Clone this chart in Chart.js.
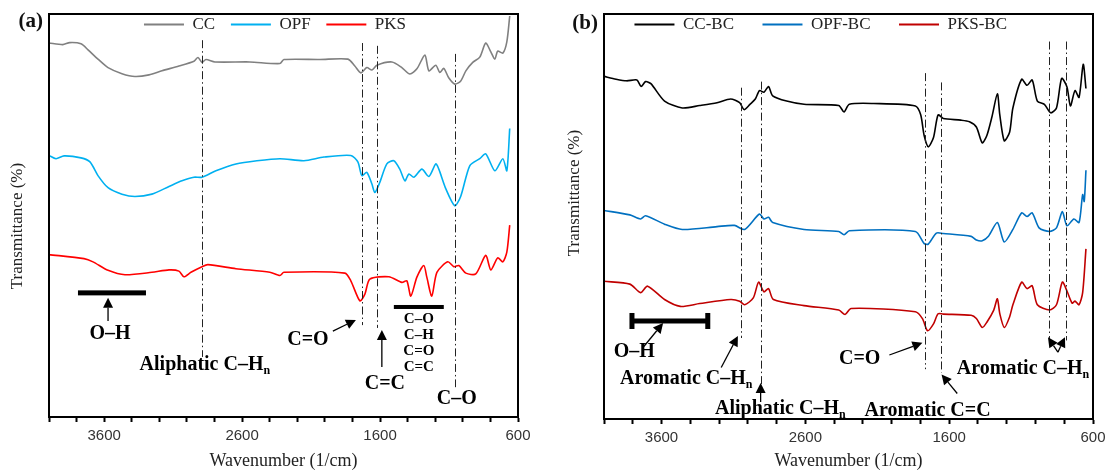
<!DOCTYPE html>
<html>
<head>
<meta charset="utf-8">
<script src="https://cdn.jsdelivr.net/npm/chart.js"></script>
<style>
  html, body { margin: 0; padding: 0; background: #fff; overflow: hidden; width: 1106px; height: 470px; }
  #wa { position: absolute; left: 0; top: 0; width: 545px; height: 470px; }
  #wb { position: absolute; left: 555px; top: 0; width: 570px; height: 470px; }
</style>
</head>
<body>
<div id="wa"><canvas id="ca"></canvas></div>
<div id="wb"><canvas id="cb"></canvas></div>
<script>
// FTIR spectra: [wavenumber (1/cm), transmittance (offset, a.u.)]
const cc = [[4000,92.8],[3900,92.4],[3850,92.9],[3768,92.6],[3717,91.1],[3645,88.8],[3572,86.7],[3471,85.2],[3377,84.5],[3275,84.9],[3181,85.9],[3058,87.1],[2949,88.3],[2920,89.2],[2891,88.0],[2862,88.7],[2797,88.1],[2544,88.1],[2326,87.7],[2297,88.7],[2036,88.7],[1833,88.8],[1783,87.1],[1739,85.4],[1696,86.7],[1659,86.1],[1623,87.3],[1514,88.1],[1442,86.7],[1384,85.1],[1333,86.4],[1275,89.8],[1246,85.9],[1196,87.3],[1167,85.5],[1138,86.5],[1101,84.1],[1058,82.6],[1015,83.4],[978,85.9],[928,88.0],[877,89.3],[834,92.8],[797,90.6],[768,88.8],[747,90.8],[710,90.3],[681,93.1],[660,99.5]];
const opf = [[4000,64.9],[3949,64.1],[3891,64.8],[3768,64.3],[3703,63.3],[3645,59.9],[3572,56.9],[3471,55.3],[3377,54.7],[3254,55.3],[3130,57.2],[3036,58.6],[2949,59.5],[2891,59.5],[2790,61.1],[2645,62.8],[2493,63.6],[2326,64.1],[2152,63.6],[2007,64.5],[1812,64.9],[1761,63.3],[1732,59.9],[1696,60.7],[1659,57.8],[1638,55.7],[1602,58.2],[1551,62.8],[1500,63.6],[1457,61.5],[1420,58.6],[1391,60.3],[1355,59.5],[1297,61.5],[1246,59.7],[1196,62.8],[1174,61.5],[1123,56.6],[1058,52.4],[1015,54.8],[949,62.4],[877,64.1],[834,65.3],[768,61.1],[710,64.1],[681,61.1],[660,71.6]];
const pks = [[4000,40.3],[3746,39.3],[3681,38.5],[3572,36.4],[3449,35.3],[3254,35.9],[3130,36.5],[3058,36.2],[3022,34.8],[2971,35.9],[2891,37.3],[2848,37.8],[2645,36.8],[2399,35.9],[2326,35.1],[2297,35.9],[1855,35.7],[1812,33.8],[1746,28.8],[1710,30.5],[1674,34.2],[1536,34.8],[1442,33.4],[1406,33.8],[1377,30.0],[1333,34.7],[1283,37.6],[1261,34.7],[1225,30.0],[1188,35.9],[1109,38.5],[1065,37.3],[1029,37.6],[978,35.7],[906,35.5],[834,40.1],[797,36.5],[747,39.5],[710,38.5],[681,40.9],[660,47.6]];

const ccBc = [[4000,84.6],[3916,83.9],[3843,83.5],[3771,83.7],[3742,82.1],[3711,83.3],[3674,82.8],[3579,78.5],[3456,76.8],[3335,77.4],[3214,78.1],[3120,79.0],[3057,78.1],[3026,76.4],[2985,77.7],[2948,79.0],[2919,81.1],[2888,80.7],[2856,82.1],[2827,79.8],[2730,78.5],[2609,77.7],[2368,77.4],[2331,75.8],[2294,77.7],[2125,77.9],[1835,77.3],[1798,75.1],[1774,70.0],[1745,67.2],[1709,69.5],[1677,75.1],[1641,74.2],[1519,73.8],[1459,73.4],[1411,72.1],[1370,68.2],[1338,70.0],[1302,74.7],[1265,80.3],[1248,75.1],[1217,68.7],[1180,70.8],[1157,76.8],[1096,83.9],[1059,82.4],[1023,83.7],[987,78.5],[938,77.7],[894,75.6],[854,76.8],[818,84.1],[781,82.0],[757,77.3],[725,81.1],[697,79.4],[668,87.6],[649,81.6]];
const opfBc = [[4000,51.5],[3820,50.4],[3746,49.4],[3711,50.2],[3579,48.1],[3456,46.8],[3214,47.5],[3093,47.8],[3022,46.8],[2919,50.6],[2888,49.4],[2856,49.8],[2827,48.5],[2609,46.8],[2368,46.3],[2331,45.5],[2294,46.5],[1835,46.3],[1774,43.3],[1745,43.2],[1689,45.9],[1641,45.8],[1447,45.1],[1411,44.2],[1370,44.0],[1327,45.1],[1265,48.5],[1217,43.7],[1157,46.8],[1096,50.9],[1059,50.0],[1023,50.9],[975,47.2],[902,46.3],[854,47.2],[813,51.2],[781,47.7],[733,49.4],[697,48.5],[672,55.4],[661,53.7],[649,61.4]];
const pksBc = [[4000,34.0],[3820,33.3],[3746,31.2],[3697,32.8],[3579,29.5],[3470,27.8],[3335,28.5],[3120,29.5],[3057,29.1],[3022,28.2],[2962,29.9],[2925,33.8],[2888,31.4],[2856,32.2],[2822,29.5],[2609,28.0],[2368,26.9],[2324,25.8],[2282,27.3],[1835,26.5],[1786,24.8],[1750,21.8],[1709,23.5],[1677,26.0],[1641,25.9],[1447,25.6],[1411,24.8],[1370,22.6],[1338,23.9],[1290,26.9],[1265,29.7],[1248,26.0],[1217,22.6],[1180,25.2],[1157,28.2],[1096,33.8],[1059,32.2],[1023,32.9],[987,28.2],[902,26.9],[854,28.2],[813,33.8],[781,31.6],[745,28.6],[725,29.1],[697,28.2],[672,31.2],[649,42.0]];

const seriesA = ['CC', 'OPF', 'PKS'];
const seriesB = ['CC-BC', 'OPF-BC', 'PKS-BC'];
const tickLabels = [3600, 2600, 1600, 600];

// band assignments: guide lines [wn, from, to], bars, arrows, labels
const guidesA = [[2891, 93.5, 14.9], [1732, 92.8, 22.8], [1623, 92.1, 22.1], [1058, 90.1, 7.4]];
const barsA = [[3790, 3297, 30.8, 5, false], [1500, 1138, 27.3, 4, false]];
const arrowsA = [[3572, 23.8, 3572, 29.6], [1942, 21.3, 1775, 24.1], [1587, 12.4, 1587, 21.6]];
const labelsA = [['O–H', '', 3558, 20.6], ['Aliphatic C–H', 'n', 2870, 12.9], ['C=O', '', 2123, 19.1], ['C=C', '', 1565, 8.2],
  ['C–O', '', 1319, 24.4, 15], ['C–H', '', 1319, 20.2, 15], ['C=O', '', 1319, 16.4, 15], ['C=C', '', 1319, 12.3, 15], ['C–O', '', 1044, 4.5]];

const guidesB = [[3050, 81.8, 20.0], [2911, 83.3, 8.0], [1767, 85.4, 12.3], [1660, 83.1, 11.4], [906, 93.2, 19.3], [786, 93.2, 19.4]];
const barsB = [[3809, 3275, 24.2, 5, true]];
const arrowsB = [[3723, 17.9, 3589, 23.7], [3185, 12.7, 3069, 20.5], [2911, 4.2, 2911, 8.9], [2016, 15.8, 1786, 18.8],
  [1544, 6.3, 1653, 11.0], [844, 16.5, 913, 20.2], [844, 16.5, 795, 20.2]];
const labelsB = [['O–H', '', 3790, 16.6], ['Aromatic C–H', 'n', 3428, 9.9], ['Aliphatic C–H', 'n', 2774, 2.5], ['C=O', '', 2222, 14.9],
  ['Aromatic C=C', '', 1750, 2.0], ['Aromatic C–H', 'n', 1547, 12.3, 20, 'left']];

const SERIF = '"Liberation Serif", "Times New Roman", serif';
Chart.defaults.font.family = SERIF;
Chart.defaults.color = '#222';

function arrow(ctx, x0, y0, x1, y1) {
  const a = Math.atan2(y1 - y0, x1 - x0), L = 10, W = 5;
  const bx = x1 - L * Math.cos(a), by = y1 - L * Math.sin(a);
  ctx.lineWidth = 1.3;
  ctx.beginPath(); ctx.moveTo(x0, y0); ctx.lineTo(bx, by); ctx.stroke();
  ctx.beginPath(); ctx.moveTo(x1, y1);
  ctx.lineTo(bx + W * Math.sin(a), by - W * Math.cos(a));
  ctx.lineTo(bx - W * Math.sin(a), by + W * Math.cos(a));
  ctx.closePath(); ctx.fill();
}

function label(ctx, txt, sub, x, y, size, align) {
  const main = `bold ${size}px ${SERIF}`, small = `bold ${Math.round(size * 0.62)}px ${SERIF}`;
  ctx.font = main;
  const w1 = ctx.measureText(txt).width;
  ctx.font = small;
  const w2 = sub ? ctx.measureText(sub).width : 0;
  const x0 = align === 'left' ? x : x - (w1 + w2) / 2;
  ctx.textAlign = 'left';
  ctx.textBaseline = 'middle';
  ctx.font = main;
  ctx.fillText(txt, x0, y);
  if (sub) { ctx.font = small; ctx.fillText(sub, x0 + w1, y + size * 0.3); }
}

// the legend sits inside the plot frame: layout reserves no room for it,
// then the box is moved down onto the top edge of the chart area
const legendInset = {
  id: 'legendInset',
  afterLayout(chart, args, o) {
    const lg = chart.legend, h = lg.height;
    lg.top = chart.chartArea.top - 1;
    lg.bottom = lg.top + h;
    lg.left += o.dx;
    lg.right += o.dx;
  }
};

const marks = {
  id: 'marks',
  afterDatasetsDraw(chart, args, o) {
    const { ctx, chartArea: a, scales } = chart;
    const px = w => scales.x.getPixelForValue(w), py = v => scales.y.getPixelForValue(v);
    ctx.save();
    ctx.strokeStyle = '#222'; ctx.lineWidth = 1; ctx.setLineDash([8, 3, 1.5, 3]);
    for (const [w, v0, v1] of o.guides) {
      ctx.beginPath(); ctx.moveTo(Math.round(px(w)) + 0.5, py(v0)); ctx.lineTo(Math.round(px(w)) + 0.5, py(v1)); ctx.stroke();
    }
    ctx.setLineDash([]);
    ctx.fillStyle = '#000'; ctx.strokeStyle = '#000';
    for (const [w0, w1, v, t, caps] of o.bars) {
      const y = py(v), x0 = px(w0), x1 = px(w1);
      ctx.fillRect(x0, y - t / 2, x1 - x0, t);
      if (caps) { ctx.fillRect(x0 - 2, y - 8, 5, 16); ctx.fillRect(x1 - 3, y - 8, 5, 16); }
    }
    for (const [w0, v0, w1, v1] of o.arrows) arrow(ctx, px(w0), py(v0), px(w1), py(v1));
    for (const [t, s, w, v, size, align] of o.labels) label(ctx, t, s, px(w), py(v), size || 20, align || 'center');
    ctx.lineWidth = 2;
    ctx.strokeRect(a.left, a.top, a.right - a.left, a.bottom - a.top);
    // panel tag and y-axis title
    ctx.fillStyle = '#111';
    ctx.font = `bold 21px ${SERIF}`; ctx.textAlign = 'right'; ctx.textBaseline = 'middle';
    ctx.fillText(o.tag, a.left - 6, a.top + 8 + o.tagDy);
    ctx.translate(o.titleX, o.titleY);
    ctx.rotate(-Math.PI / 2);
    ctx.fillStyle = '#222';
    ctx.font = `17px ${SERIF}`; ctx.textAlign = 'center';
    ctx.fillText('Transmittance (%)', 0, 0);
    ctx.restore();
  }
};

function panel(id, names, colors, sets, p) {
  return new Chart(document.getElementById(id), {
    type: 'line',
    data: {
      datasets: sets.map((s, i) => ({
        label: names[i],
        data: s.map(([x, y]) => ({ x, y })),
        borderColor: colors[i], backgroundColor: colors[i],
        borderWidth: 1.6, pointRadius: 0, tension: 0.25
      }))
    },
    options: {
      responsive: true, maintainAspectRatio: false, animation: false,
      layout: { padding: { top: -16, right: p.right, left: 0, bottom: 0 } },
      plugins: {
        tooltip: { enabled: false },
        legend: {
          position: 'top', align: 'center',
          labels: {
            usePointStyle: true, pointStyle: 'line', pointStyleWidth: 40, padding: 3,
            color: '#222', font: { family: SERIF, size: 17 },
            generateLabels: c => Chart.defaults.plugins.legend.labels.generateLabels(c)
              .map((l, i, all) => ({ ...l, lineWidth: 2, text: l.text + (i < all.length - 1 ? p.gap : p.tail) }))
          }
        },
        legendInset: { dx: p.dx },
        marks: { guides: p.guides, bars: p.bars, arrows: p.arrows, labels: p.labels, tag: p.tag, tagDy: p.tagDy, titleX: p.titleX, titleY: p.titleY }
      },
      scales: {
        x: {
          type: 'linear', reverse: true, min: 600, max: 4000,
          afterFit: s => { s.height = p.xh; },
          border: { display: true, color: '#000', width: 2 },
          grid: { drawOnChartArea: false, drawTicks: true, tickLength: 5, tickColor: '#000', tickWidth: 2 },
          ticks: {
            stepSize: 200, autoSkip: false, maxRotation: 0, padding: 5, color: '#333',
            font: { family: '"Liberation Sans", Arial, sans-serif', size: 15 },
            callback: v => tickLabels.includes(v) ? String(v) : ''
          },
          title: { display: true, text: 'Wavenumber (1/cm)', color: '#222', font: { family: SERIF, size: 18, lineHeight: 1 }, padding: { top: 0, bottom: 0 } }
        },
        y: {
          min: 0, max: 100,
          afterFit: s => { s.width = 49; },
          border: { display: true, color: '#000', width: 2 },
          grid: { display: false },
          ticks: { display: false }
        }
      }
    },
    plugins: [legendInset, marks]
  });
}

panel('ca', seriesA, ['#808080', '#00b0f0', '#ff0000'], [cc, opf, pks],
  { gap: '   ', tail: '', dx: 16, right: 27, xh: 53, tag: '(a)', tagDy: 0, titleX: 18, titleY: 226,
    guides: guidesA, bars: barsA, arrows: arrowsA, labels: labelsA });
panel('cb', seriesB, ['#000000', '#0070c0', '#c00000'], [ccBc, opfBc, pksBc],
  { gap: '      ', tail: '          ', dx: 18, right: 32, xh: 51, tag: '(b)', tagDy: 2, titleX: 20, titleY: 193,
    guides: guidesB, bars: barsB, arrows: arrowsB, labels: labelsB });
</script>
</body>
</html>
